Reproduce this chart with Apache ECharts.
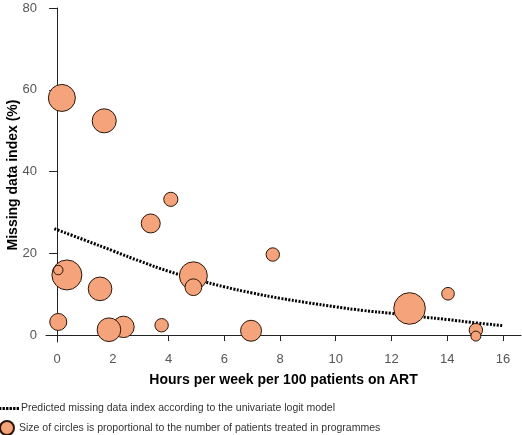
<!DOCTYPE html>
<html>
<head>
<meta charset="utf-8">
<script src="https://cdn.jsdelivr.net/npm/echarts@6/dist/echarts.min.js"></script>
<style>html,body{margin:0;padding:0;background:#fff;}#c{width:522px;height:435px;}</style>
</head>
<body>
<div id="c"></div>
<script>
// Programme data
var hours    = [0.17, 1.69, 4.08, 3.36, 0.35, 0.04, 1.54, 0.04, 2.38, 1.86, 3.75, 4.89, 4.89, 6.96, 7.74, 12.65, 14.03, 15.03, 15.03];
var missing  = [58.0, 52.4, 33.2, 27.3, 14.7, 15.9, 11.3, 3.2, 2.0, 1.3, 2.4, 14.5, 11.7, 1.05, 19.7, 6.5, 10.1, 1.2, -0.25];
var patients = [730, 580, 200, 360, 900, 90, 560, 290, 460, 560, 180, 780, 280, 440, 180, 1000, 160, 180, 100];

// Predicted curve
var curveX = [-0.1, 1, 2, 3, 4, 5, 6, 7, 8, 9, 10, 11, 12, 13, 14, 15, 16];
var curveY = [26.0, 23.2, 20.6, 18.0, 15.6, 13.6, 11.8, 10.3, 9.0, 7.9, 6.9, 6.0, 5.3, 4.5, 3.8, 3.0, 2.3];

var xTicks = [0, 2, 4, 6, 8, 10, 12, 14, 16];
var yTicks = [0, 20, 40, 60, 80];

var xTitle = 'Hours per week per 100 patients on ART';
var yTitle = 'Missing data index (%)';
var lineName = 'Predicted missing data index according to the univariate logit model';
var bubbleName = 'Size of circles is proportional to the number of patients treated in programmes';

var FONT = "'Liberation Sans', Arial, sans-serif";

var bubbleData = hours.map(function (h, i) { return [h, missing[i], patients[i]]; });
var curveData = curveX.map(function (x, i) { return [x, curveY[i]]; });

var dotIcon = 'path://M0,0h2v2.6h-2zM3,0h2v2.6h-2zM6,0h2v2.6h-2zM9,0h2v2.6h-2zM12,0h2v2.6h-2zM15,0h2v2.6h-2z';

var legendText = { fontFamily: FONT, fontSize: 10.5, color: '#333', padding: [0, 0, 0, -3] };

var chart = echarts.init(document.getElementById('c'), null, { renderer: 'canvas' });
chart.setOption({
  animation: false,
  backgroundColor: '#fff',
  grid: { left: 46, right: 1, top: 8, bottom: 93, containLabel: false, outerBoundsMode: 'none' },
  xAxis: {
    type: 'value', min: -0.4, max: 16.65,
    name: xTitle, nameLocation: 'middle', nameGap: 31, nameMoveOverlap: false,
    nameTextStyle: { fontFamily: FONT, fontWeight: 'bold', fontSize: 14, color: '#000' },
    axisLine: { show: true, lineStyle: { color: '#222', width: 1 } },
    axisTick: { show: true, length: 6, customValues: xTicks, lineStyle: { color: '#222' } },
    axisLabel: { customValues: xTicks, margin: 11, fontFamily: FONT, fontSize: 13, color: '#555' },
    splitLine: { show: false }
  },
  yAxis: {
    type: 'value', min: -1.7, max: 80,
    name: yTitle, nameLocation: 'middle', nameGap: 26, nameRotate: 90, nameMoveOverlap: false,
    nameTextStyle: { fontFamily: FONT, fontWeight: 'bold', fontSize: 14, color: '#000' },
    axisLine: { show: true, lineStyle: { color: '#222', width: 1 } },
    axisTick: { show: true, length: 8, customValues: yTicks, lineStyle: { color: '#222' } },
    axisLabel: { customValues: yTicks, margin: 9, fontFamily: FONT, fontSize: 13, color: '#555' },
    splitLine: { show: false }
  },
  legend: [
    {
      left: -1, top: 403, padding: 0, itemWidth: 20, itemHeight: 14, textStyle: legendText,
      data: [{ name: lineName, icon: dotIcon, itemStyle: { color: '#000' } }]
    },
    {
      left: -1, top: 420, padding: 0, itemWidth: 20, itemHeight: 14, textStyle: legendText,
      data: [{ name: bubbleName, icon: 'circle' }]
    }
  ],
  series: [
    {
      name: lineName, type: 'line', data: curveData, smooth: true,
      symbol: 'none', z: 2,
      lineStyle: { color: '#000', width: 3, type: [2, 1.5] },
      itemStyle: { color: '#000' }
    },
    {
      name: bubbleName, type: 'scatter', data: bubbleData, z: 3,
      symbol: 'circle',
      symbolSize: function (v) { return Math.sqrt(v[2]); },
      itemStyle: { color: '#F5A37A', borderColor: '#2a160c', borderWidth: 1, opacity: 1 }
    }
  ]
});
</script>
</body>
</html>
